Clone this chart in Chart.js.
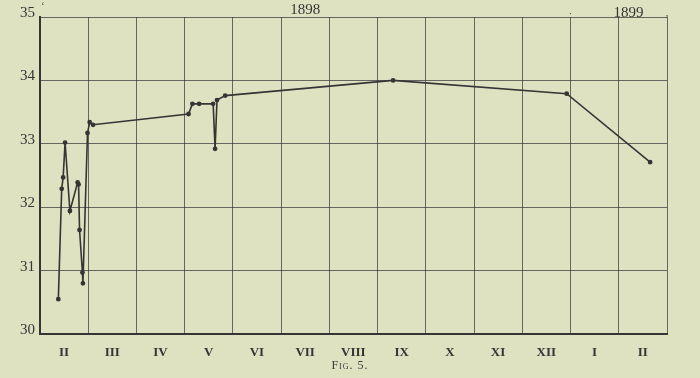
<!DOCTYPE html>
<html>
<head>
<meta charset="utf-8">
<script src="https://cdn.jsdelivr.net/npm/chart.js@4.4.1/dist/chart.umd.min.js"></script>
<style>
  html, body { margin: 0; padding: 0; background: #dfe2c1; }
  #wrap { position: relative; width: 700px; height: 378px; }
  #caption {
    position: absolute; left: 0; top: 358px; width: 700px; text-align: center;
    font-family: "Liberation Serif", serif; font-size: 12px; font-variant: small-caps;
    color: #3c3c3c; letter-spacing: 1px;
  }
</style>
</head>
<body>
<div id="wrap">
  <canvas id="chart" width="700" height="378"></canvas>
  <div id="caption">Fig. 5.</div>
</div>
<script>
// months since 1 Feb 1898 (0 = start of II, 13 = end of II 1899)
var monthPos = [0.38, 0.45, 0.48, 0.52, 0.62, 0.78, 0.80, 0.82, 0.88, 0.89, 0.985, 1.03, 1.10,
                3.08, 3.16, 3.30, 3.59, 3.63, 3.67, 3.84, 7.32, 10.92, 12.65];
var values = [30.55, 32.29, 32.47, 33.02, 31.94, 32.39, 32.36, 31.64, 30.97, 30.80, 33.17, 33.34, 33.30,
              33.47, 33.63, 33.63, 33.63, 32.92, 33.69, 33.76, 34.0, 33.79, 32.71];
var monthLabels = ['II', 'III', 'IV', 'V', 'VI', 'VII', 'VIII', 'IX', 'X', 'XI', 'XII', 'I', 'II'];
var yearLabels = ['1898', '1899'];
var yearPos = [5.5, 12.2];

var INK = '#353535';
var GRID = 'rgba(60,60,60,0.75)';

var points = monthPos.map(function (m, i) {
    return { x: m, y: values[i] };
});

var yearPlugin = {
    id: 'years',
    afterDraw: function (chart) {
        var ctx = chart.ctx;
        var xs = chart.scales.x;
        ctx.save();
        ctx.fillStyle = INK;
        ctx.font = '15px "Liberation Serif", serif';
        ctx.textAlign = 'center';
        ctx.textBaseline = 'middle';
        ctx.fillText(yearLabels[0], xs.getPixelForValue(yearPos[0]), 10);
        ctx.fillText(yearLabels[1], xs.getPixelForValue(yearPos[1]), 13);
        ctx.font = '10px "Liberation Serif", serif';
        ctx.fillText('\u00b7', xs.getPixelForValue(11), 14);
        ctx.fillText(',', xs.getPixelForValue(13), 13);
        ctx.fillText('\u2018', xs.getPixelForValue(0) + 3, 6);
        ctx.restore();
    }
};

var ctx = document.getElementById('chart').getContext('2d');
new Chart(ctx, {
    type: 'line',
    data: {
        datasets: [{
            data: points,
            borderColor: INK,
            backgroundColor: INK,
            borderWidth: 1.6,
            pointRadius: 1.6,
            pointHoverRadius: 1.6,
            tension: 0
        }]
    },
    options: {
        responsive: false,
        animation: false,
        layout: {
            padding: { left: 0, right: 33, top: 17, bottom: 0 }
        },
        plugins: {
            legend: { display: false },
            tooltip: { enabled: false }
        },
        scales: {
            x: {
                type: 'linear',
                min: 0,
                max: 13,
                afterFit: function (scale) { scale.height = 44; },
                grid: { color: GRID, lineWidth: 1, drawTicks: false },
                border: { color: INK, width: 2 },
                ticks: {
                    stepSize: 1,
                    padding: 11,
                    labelOffset: 24,
                    maxRotation: 0,
                    autoSkip: false,
                    color: INK,
                    font: { family: '"Liberation Serif", serif', size: 13, weight: 'bold' },
                    callback: function (value, index) {
                        return monthLabels[index] || '';
                    }
                }
            },
            y: {
                min: 30,
                max: 35,
                afterFit: function (scale) { scale.width = 40; },
                grid: { color: GRID, lineWidth: 1, drawTicks: false },
                border: { color: INK, width: 2 },
                ticks: {
                    stepSize: 1,
                    padding: 5,
                    labelOffset: -4,
                    color: INK,
                    font: { family: '"Liberation Serif", serif', size: 15 }
                }
            }
        }
    },
    plugins: [yearPlugin]
});
</script>
</body>
</html>
